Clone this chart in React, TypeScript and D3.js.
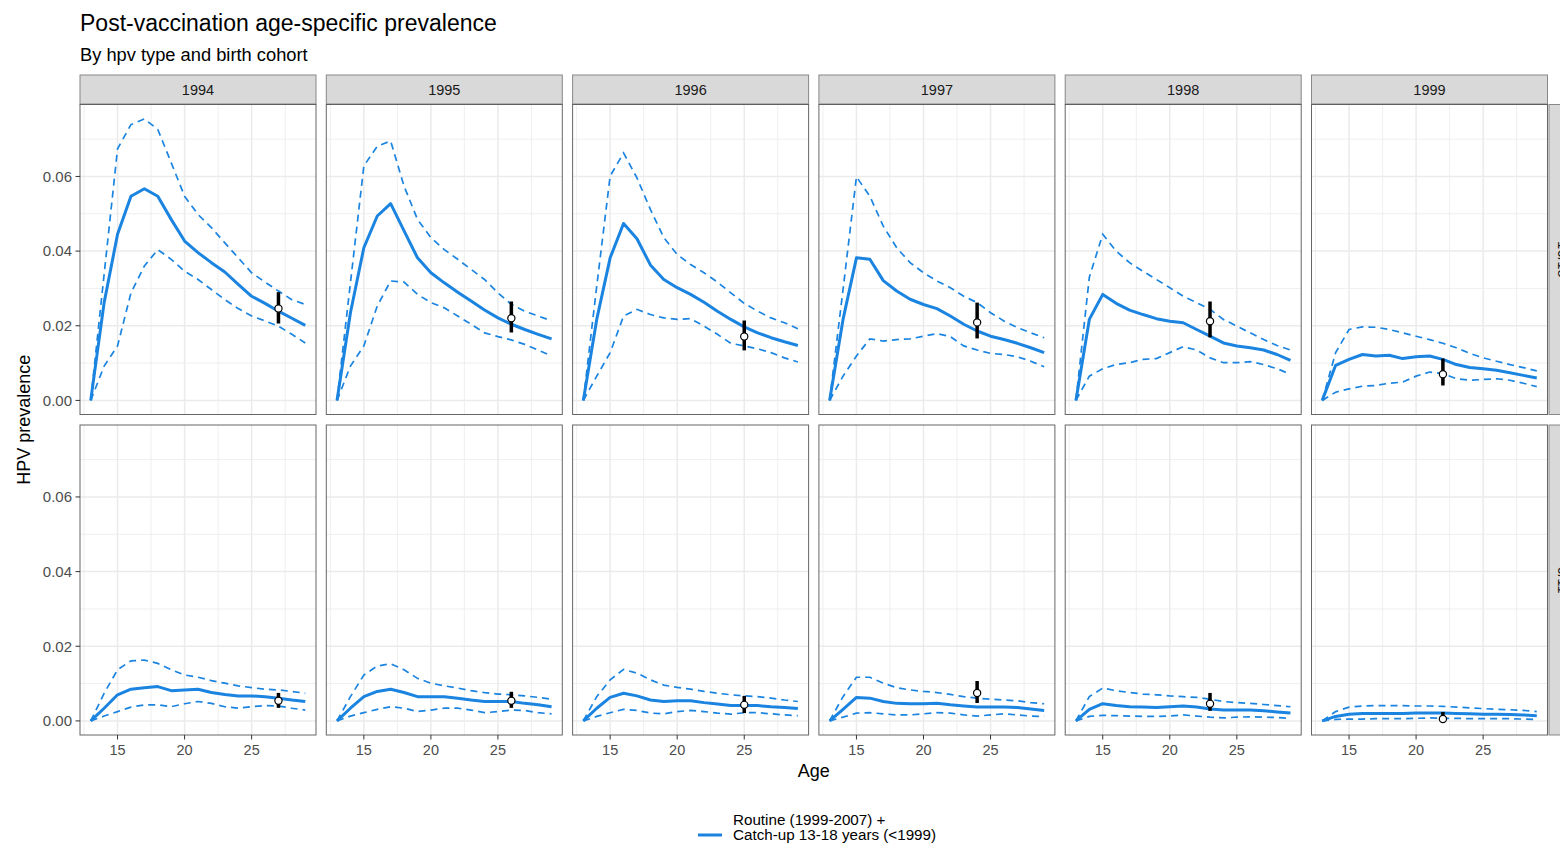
import React from 'react';
import * as d3 from 'd3';

// ages 13..29, one value per age
const ages = d3.range(13, 30);
const cohorts = ['1994', '1995', '1996', '1997', '1998', '1999'];
const hpvTypes = ['16/18', '6/11'];

const xTicks = [15, 20, 25];
const xMinor = [12.5, 17.5, 22.5, 27.5];
const yTicks = [0, 0.02, 0.04, 0.06];
const yMinor = [0.01, 0.03, 0.05, 0.07];

// top row (first hpv type)
const meanTop = [
  [0, .0262, .0445, .0547, .0567, .0547, .0485, .0427, .0396, .0369, .0344, .0311, .0279, .026, .0239, .022, .0201],
  [0, .0235, .0409, .0494, .0527, .0454, .0382, .0342, .0315, .029, .0266, .0242, .0221, .0204, .019, .0177, .0165],
  [0, .0217, .0382, .0474, .0433, .0363, .0324, .0302, .0284, .0263, .0239, .0217, .0197, .0181, .0168, .0157, .0147],
  [0, .0217, .0382, .0378, .0321, .0293, .0271, .0257, .0246, .0226, .0204, .0186, .0172, .0163, .0153, .0141, .0128],
  [0, .0217, .0284, .026, .0242, .023, .0219, .0212, .0208, .019, .0172, .0154, .0146, .0141, .0135, .0123, .0107],
  [0, .0094, .011, .0123, .0119, .0121, .0112, .0117, .0119, .011, .0096, .0088, .0085, .0081, .0074, .0067, .006]
];
const upperTop = [
  [0, .0338, .0674, .0739, .0754, .0726, .0637, .0547, .0498, .0463, .0422, .0382, .0342, .0317, .0293, .027, .0257],
  [0, .0315, .0628, .0681, .0695, .0574, .0485, .0436, .0404, .0378, .0351, .0324, .0288, .0257, .0239, .0226, .0213],
  [0, .0306, .0601, .0663, .0596, .0512, .0436, .0391, .0364, .0342, .0317, .0288, .026, .0239, .0221, .0208, .0192],
  [0, .0297, .0599, .0547, .0467, .0409, .0369, .0342, .032, .0302, .0279, .0262, .0235, .0213, .0195, .0181, .0168],
  [0, .033, .0445, .04, .0369, .0346, .0324, .0302, .0279, .0262, .0244, .0217, .0199, .0181, .0163, .0147, .0135],
  [0, .0128, .019, .0197, .0196, .019, .0181, .0172, .0163, .0153, .0141, .0126, .0114, .0105, .0096, .0088, .0079]
];
const lowerTop = [
  [0, .0092, .0146, .0288, .036, .0404, .0378, .0346, .0324, .0297, .027, .0246, .0226, .0213, .0199, .0177, .0154],
  [0, .0092, .0146, .0253, .032, .0317, .0284, .0262, .0248, .0226, .0204, .0181, .0171, .0162, .015, .0135, .0119],
  [0, .0065, .0128, .0226, .0244, .023, .0221, .0217, .0219, .0199, .0177, .0153, .0146, .0138, .0128, .0114, .0103],
  [0, .0065, .0119, .0165, .0159, .0163, .0165, .0172, .0179, .0171, .0146, .0135, .0126, .0123, .0117, .0105, .009],
  [0, .0065, .0085, .0096, .0101, .011, .0112, .0128, .0144, .0135, .0114, .0101, .0101, .0104, .0096, .0085, .007],
  [0, .0022, .0031, .0038, .004, .0046, .0049, .0065, .0076, .0072, .0058, .0054, .0056, .0058, .0054, .0046, .0037]
];

// bottom row (second hpv type)
const meanBottom = [
  [0, .0034, .007, .0085, .0089, .0092, .0081, .0083, .0085, .0076, .0071, .0067, .0067, .0065, .0061, .0056, .0052],
  [0, .0034, .0065, .0079, .0085, .0076, .0065, .0065, .0065, .0061, .0056, .0052, .0052, .0052, .0047, .0043, .0038],
  [0, .0034, .0063, .0074, .0067, .0056, .0052, .0054, .0054, .0049, .0045, .0041, .0041, .0041, .0038, .0036, .0033],
  [0, .0031, .0063, .0061, .0052, .0047, .0046, .0046, .0047, .0043, .004, .0037, .0037, .0037, .0036, .0032, .0028],
  [0, .0031, .0046, .0041, .0038, .0037, .0036, .0038, .004, .0037, .0032, .0029, .0029, .0029, .0027, .0024, .0021],
  [0, .0012, .0018, .002, .002, .002, .002, .0021, .0021, .0021, .002, .0019, .0018, .0018, .0017, .0016, .0014]
];
const upperBottom = [
  [0, .0074, .0137, .0161, .0163, .0154, .0137, .0123, .0117, .0108, .0101, .0094, .0089, .0085, .0083, .0079, .0074],
  [0, .0065, .0123, .0147, .0153, .0137, .0114, .0101, .0094, .0088, .0081, .0076, .0072, .007, .0067, .0063, .0058],
  [0, .0065, .011, .0138, .0128, .011, .0096, .009, .0085, .0079, .0074, .007, .0067, .0065, .0061, .0056, .0052],
  [0, .0065, .0117, .0117, .0101, .0089, .0083, .0079, .0076, .0071, .0065, .0061, .0058, .0056, .0054, .0049, .0046],
  [0, .0065, .0088, .0081, .0076, .0072, .007, .0067, .0065, .0063, .0058, .0052, .0049, .0047, .0044, .0041, .0038],
  [0, .0025, .0037, .004, .0041, .0041, .0041, .004, .004, .0039, .0037, .0035, .0033, .0031, .003, .0028, .0025]
];
const lowerBottom = [
  [0, .0013, .0025, .0037, .0043, .0043, .0038, .0046, .0052, .0047, .0038, .0034, .0038, .0041, .004, .0034, .0029],
  [0, .0013, .0022, .0031, .0038, .0034, .0025, .0029, .0034, .0034, .0029, .0022, .0025, .0029, .0028, .0022, .0019],
  [0, .0012, .0022, .0031, .0028, .0021, .0019, .0025, .0028, .0025, .0021, .0018, .0022, .0022, .0019, .0016, .0014],
  [0, .001, .0021, .0022, .0019, .0016, .0016, .0019, .0022, .0021, .0016, .0013, .0016, .0019, .0016, .0013, .0012],
  [0, .0012, .0015, .0014, .0013, .0012, .0012, .0013, .0016, .0013, .001, .0008, .001, .0011, .001, .0009, .0007],
  [0, .0004, .0005, .0005, .0006, .0006, .0006, .0007, .0008, .0007, .0007, .0006, .0006, .0006, .0006, .0005, .0004]
];

// observed survey prevalence with 95% CI
const obsAge = [27, 26, 25, 24, 23, 22];
const obsTop = [.0246, .022, .0171, .0209, .0212, .007];
const obsTopLo = [.0206, .0182, .0134, .0166, .0169, .004];
const obsTopHi = [.029, .0265, .0214, .0262, .0265, .0112];
const obsBottom = [.0054, .0054, .0043, .0075, .0046, .0005];
const obsBottomLo = [.0035, .0035, .0021, .0048, .0027, 0];
const obsBottomHi = [.0075, .0078, .0067, .0107, .0075, .0024];

const legendLines = ['Routine (1999-2007) +', 'Catch-up 13-18 years (<1999)'];

const rows = [
  { mean: meanTop, upper: upperTop, lower: lowerTop, obs: obsTop, lo: obsTopLo, hi: obsTopHi },
  { mean: meanBottom, upper: upperBottom, lower: lowerBottom, obs: obsBottom, lo: obsBottomLo, hi: obsBottomHi }
];

const W = 1560;
const H = 845;
const FONT = '"Liberation Sans", Arial, Helvetica, sans-serif';
const BLUE = '#1a84e0';

const panelLeft = 80;
const panelW = 236;
const panelGap = 10.3;
const stripTop = 75;
const stripH = 29;
const rowTops = [104.5, 425];
const panelH = 310;

const x = d3.scaleLinear().domain([12.2, 29.8]).range([0, panelW]);
const y = d3.scaleLinear().domain([-0.003775, 0.079275]).range([panelH, 0]);

const line = d3
  .line<number>()
  .x((_, i) => x(ages[i]))
  .y(d => y(d));

const Panel = ({ row, col }: { row: number; col: number }) => {
  const r = rows[row];
  const left = panelLeft + col * (panelW + panelGap);
  const top = rowTops[row];
  return (
    <g transform={`translate(${left},${top})`}>
      <rect width={panelW} height={panelH} fill="#fff" />
      {xMinor.map(t => (
        <line key={'xm' + t} x1={x(t)} x2={x(t)} y1={0} y2={panelH} stroke="#ebebeb" strokeWidth={0.8} />
      ))}
      {yMinor.map(t => (
        <line key={'ym' + t} x1={0} x2={panelW} y1={y(t)} y2={y(t)} stroke="#ebebeb" strokeWidth={0.8} />
      ))}
      {xTicks.map(t => (
        <line key={'x' + t} x1={x(t)} x2={x(t)} y1={0} y2={panelH} stroke="#ebebeb" strokeWidth={1.5} />
      ))}
      {yTicks.map(t => (
        <line key={'y' + t} x1={0} x2={panelW} y1={y(t)} y2={y(t)} stroke="#ebebeb" strokeWidth={1.5} />
      ))}
      <path d={line(r.upper[col]) || ''} fill="none" stroke={BLUE} strokeWidth={1.7} strokeDasharray="7,5" />
      <path d={line(r.lower[col]) || ''} fill="none" stroke={BLUE} strokeWidth={1.7} strokeDasharray="7,5" />
      <path d={line(r.mean[col]) || ''} fill="none" stroke={BLUE} strokeWidth={3} strokeLinejoin="round" />
      <line
        x1={x(obsAge[col])}
        x2={x(obsAge[col])}
        y1={y(r.lo[col])}
        y2={y(r.hi[col])}
        stroke="#000"
        strokeWidth={3.5}
      />
      <circle cx={x(obsAge[col])} cy={y(r.obs[col])} r={3.6} fill="#fff" stroke="#000" strokeWidth={1.2} />
      <rect width={panelW} height={panelH} fill="none" stroke="#333" strokeWidth={1} opacity={0.75} />
      {col === 0 &&
        yTicks.map(t => (
          <g key={'yt' + t}>
            <line x1={-4.5} x2={0} y1={y(t)} y2={y(t)} stroke="#333" strokeWidth={1} />
            <text
              x={-8}
              y={y(t)}
              dy="0.35em"
              textAnchor="end"
              fontSize={15}
              fill="#4d4d4d"
              fontFamily={FONT}
            >
              {d3.format('.2f')(t)}
            </text>
          </g>
        ))}
      {row === 1 &&
        xTicks.map(t => (
          <g key={'xt' + t}>
            <line x1={x(t)} x2={x(t)} y1={panelH} y2={panelH + 4.5} stroke="#333" strokeWidth={1} />
            <text
              x={x(t)}
              y={panelH + 19.5}
              textAnchor="middle"
              fontSize={14.5}
              fill="#4d4d4d"
              fontFamily={FONT}
            >
              {t}
            </text>
          </g>
        ))}
    </g>
  );
};

export default function App() {
  const rightStripX = panelLeft + 6 * panelW + 5 * panelGap + 1.5;
  return (
    <svg
      width={W}
      height={H}
      style={{ position: 'absolute', left: 0, top: 0, background: '#fff' }}
      fontFamily={FONT}
    >
      <rect width={W} height={H} fill="#fff" />
      <text x={80} y={31} fontSize={23} fill="#000">
        Post-vaccination age-specific prevalence
      </text>
      <text x={80} y={61} fontSize={18.3} fill="#000">
        By hpv type and birth cohort
      </text>

      {cohorts.map((c, i) => {
        const left = panelLeft + i * (panelW + panelGap);
        return (
          <g key={c} transform={`translate(${left},${stripTop})`}>
            <rect width={panelW} height={stripH} fill="#d9d9d9" stroke="#888" strokeWidth={1} />
            <text x={panelW / 2} y={stripH / 2} dy="0.35em" textAnchor="middle" fontSize={14.5} fill="#1a1a1a">
              {c}
            </text>
          </g>
        );
      })}

      {hpvTypes.map((t, i) => (
        <g key={t} transform={`translate(${rightStripX},${rowTops[i]})`}>
          <rect width={stripH} height={panelH} fill="#d9d9d9" stroke="#888" strokeWidth={1} />
          <text
            transform={`translate(${stripH / 2},${panelH / 2}) rotate(90)`}
            dy="0.35em"
            textAnchor="middle"
            fontSize={14.5}
            fill="#1a1a1a"
          >
            {t}
          </text>
        </g>
      ))}

      {rows.map((_, ri) => cohorts.map((_, ci) => <Panel key={ri + '-' + ci} row={ri} col={ci} />))}

      <text
        transform={`translate(30,${(rowTops[0] + rowTops[1] + panelH) / 2}) rotate(-90)`}
        textAnchor="middle"
        fontSize={18}
        fill="#000"
      >
        HPV prevalence
      </text>
      <text x={(panelLeft + rightStripX - 1.5) / 2} y={777} textAnchor="middle" fontSize={18} fill="#000">
        Age
      </text>

      <line x1={698} x2={722} y1={835} y2={835} stroke={BLUE} strokeWidth={3} />
      {legendLines.map((l, i) => (
        <text key={l} x={733} y={825 + i * 15} fontSize={15.2} fill="#000">
          {l}
        </text>
      ))}
    </svg>
  );
}
